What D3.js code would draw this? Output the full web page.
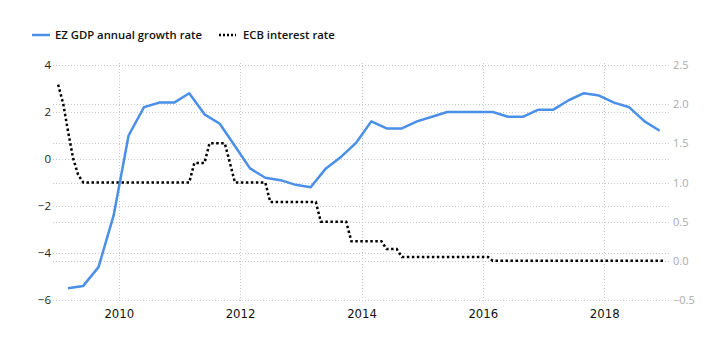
<!DOCTYPE html>
<html>
<head>
<meta charset="utf-8">
<script src="https://cdn.jsdelivr.net/npm/d3@7"></script>
<style>
  html, body { margin: 0; padding: 0; background: #fff; }
  svg { display: block; }
</style>
</head>
<body>
<svg id="chart" width="720" height="362"></svg>
<script>
// ---- Data ----
const gdpQuarters = [
  "2009Q1","2009Q2","2009Q3","2009Q4",
  "2010Q1","2010Q2","2010Q3","2010Q4",
  "2011Q1","2011Q2","2011Q3","2011Q4",
  "2012Q1","2012Q2","2012Q3","2012Q4",
  "2013Q1","2013Q2","2013Q3","2013Q4",
  "2014Q1","2014Q2","2014Q3","2014Q4",
  "2015Q1","2015Q2","2015Q3","2015Q4",
  "2016Q1","2016Q2","2016Q3","2016Q4",
  "2017Q1","2017Q2","2017Q3","2017Q4",
  "2018Q1","2018Q2","2018Q3","2018Q4"
];
const gdpGrowth = [
  -5.5, -5.4, -4.6, -2.4,
   1.0,  2.2,  2.4,  2.4,
   2.8,  1.9,  1.5,  0.55,
  -0.4, -0.8, -0.9, -1.1,
  -1.2, -0.4,  0.1,  0.7,
   1.6,  1.3,  1.3,  1.6,
   1.8,  2.0,  2.0,  2.0,
   2.0,  1.8,  1.8,  2.1,
   2.1,  2.5,  2.8,  2.7,
   2.4,  2.2,  1.6,  1.2
];
const ecbMonths = d3.timeMonths(new Date(2009, 0, 1), new Date(2019, 1, 1)); // Jan 2009 .. Jan 2019
const ecbRate = [
  // 2009
  2.25, 2.0, 1.66, 1.31, 1.1, 1.0, 1.0, 1.0, 1.0, 1.0, 1.0, 1.0,
  // 2010
  1.0, 1.0, 1.0, 1.0, 1.0, 1.0, 1.0, 1.0, 1.0, 1.0, 1.0, 1.0,
  // 2011
  1.0, 1.0, 1.0, 1.25, 1.25, 1.25, 1.5, 1.5, 1.5, 1.5, 1.25, 1.0,
  // 2012
  1.0, 1.0, 1.0, 1.0, 1.0, 1.0, 0.75, 0.75, 0.75, 0.75, 0.75, 0.75,
  // 2013
  0.75, 0.75, 0.75, 0.75, 0.5, 0.5, 0.5, 0.5, 0.5, 0.5, 0.25, 0.25,
  // 2014
  0.25, 0.25, 0.25, 0.25, 0.25, 0.15, 0.15, 0.15, 0.05, 0.05, 0.05, 0.05,
  // 2015
  0.05, 0.05, 0.05, 0.05, 0.05, 0.05, 0.05, 0.05, 0.05, 0.05, 0.05, 0.05,
  // 2016
  0.05, 0.05, 0, 0, 0, 0, 0, 0, 0, 0, 0, 0,
  // 2017
  0, 0, 0, 0, 0, 0, 0, 0, 0, 0, 0, 0,
  // 2018
  0, 0, 0, 0, 0, 0, 0, 0, 0, 0, 0, 0,
  // 2019
  0
];
const leftTicks = [-6, -4, -2, 0, 2, 4];
const rightTicks = [-0.5, 0, 0.5, 1, 1.5, 2, 2.5];
const xTickYears = [2010, 2012, 2014, 2016, 2018];
const seriesNames = ["EZ GDP annual growth rate", "ECB interest rate"];

// ---- Helpers ----
function quarterDate(q) {
  const y = +q.slice(0, 4), n = +q.slice(5);
  return new Date(y, n * 3 - 1, 1);
}

// ---- Layout ----
const svg = d3.select("#chart");
const X0 = 53, X1 = 670, Y0 = 65, Y1 = 300;

const x = d3.scaleTime()
  .domain([new Date(2008, 11, 1), new Date(2019, 1, 1)])
  .range([X0, X1]);
const yL = d3.scaleLinear().domain([-6, 4]).range([Y1, Y0]);
const yR = d3.scaleLinear().domain([-0.5, 2.5]).range([Y1, Y0]);

const gridColor = "#c9c9c9";

// Horizontal grid lines (both axes)
const grid = svg.append("g");
grid.selectAll("line.gl").data(leftTicks).join("line")
  .attr("x1", X0).attr("x2", X1)
  .attr("y1", d => Math.round(yL(d)) + 0.5).attr("y2", d => Math.round(yL(d)) + 0.5)
  .attr("stroke", gridColor).attr("stroke-dasharray", "1,2");
grid.selectAll("line.gr").data(rightTicks).join("line")
  .attr("x1", X0).attr("x2", X1)
  .attr("y1", d => Math.round(yR(d)) + 0.5).attr("y2", d => Math.round(yR(d)) + 0.5)
  .attr("stroke", gridColor).attr("stroke-dasharray", "1,2");
// Vertical grid lines
grid.selectAll("line.gv").data(xTickYears).join("line")
  .attr("x1", d => Math.round(x(new Date(d, 0, 1))) + 0.5)
  .attr("x2", d => Math.round(x(new Date(d, 0, 1))) + 0.5)
  .attr("y1", Y0 - 2).attr("y2", Y1 + 3)
  .attr("stroke", gridColor).attr("stroke-dasharray", "1,2");

// Left axis labels
const axL = d3.axisLeft(yL).tickValues(leftTicks).tickSize(0).tickPadding(2);
const gL = svg.append("g").attr("transform", `translate(${X0},0)`).call(axL);
gL.select(".domain").remove();
gL.selectAll("text").attr("font-family", "'Open Sans', sans-serif")
  .attr("font-size", 11.5).attr("fill", "#222");

// Right axis labels
const axR = d3.axisRight(yR).tickValues(rightTicks).tickSize(0).tickPadding(3);
const gR = svg.append("g").attr("transform", `translate(${X1},0)`).call(axR);
gR.select(".domain").remove();
gR.selectAll("text").attr("font-family", "'Open Sans', sans-serif")
  .attr("font-size", 11).attr("fill", "#aaaaaa");

// X axis labels
const axX = d3.axisBottom(x).tickValues(xTickYears.map(y => new Date(y, 0, 1)))
  .tickFormat(d3.timeFormat("%Y")).tickSize(0).tickPadding(9);
const gX = svg.append("g").attr("transform", `translate(0,${Y1})`).call(axX);
gX.select(".domain").remove();
gX.selectAll("text").attr("font-family", "'Liberation Sans Narrow', 'DejaVu Sans Condensed', sans-serif")
  .attr("font-size", 13).attr("fill", "#111");

// ECB line (dotted)
const ecbData = ecbMonths.map((d, i) => ({ date: d, v: ecbRate[i] }));
svg.append("path")
  .datum(ecbData)
  .attr("fill", "none")
  .attr("stroke", "#000")
  .attr("stroke-width", 2.5)
  .attr("stroke-dasharray", "2.5,2.5")
  .attr("d", d3.line().x(d => x(d.date)).y(d => yR(d.v)));

// GDP line
const gdpData = gdpQuarters.map((q, i) => ({ date: quarterDate(q), v: gdpGrowth[i] }));
svg.append("path")
  .datum(gdpData)
  .attr("fill", "none")
  .attr("stroke", "#4a8fe8")
  .attr("stroke-width", 2.5)
  .attr("stroke-linejoin", "round")
  .attr("d", d3.line().x(d => x(d.date)).y(d => yL(d.v)));

// Legend
const lg = svg.append("g");
lg.append("line").attr("x1", 32).attr("x2", 50).attr("y1", 35).attr("y2", 35)
  .attr("stroke", "#4a8fe8").attr("stroke-width", 2.5);
lg.append("text").attr("x", 55).attr("y", 39.3).text(seriesNames[0])
  .attr("font-family", "'Open Sans', sans-serif").attr("font-size", 11.3)
  .attr("font-weight", 600).attr("fill", "#111");
lg.append("line").attr("x1", 219).attr("x2", 236).attr("y1", 35).attr("y2", 35)
  .attr("stroke", "#000").attr("stroke-width", 2.5).attr("stroke-dasharray", "2,2");
lg.append("text").attr("x", 243).attr("y", 39.3).text(seriesNames[1])
  .attr("font-family", "'Open Sans', sans-serif").attr("font-size", 11.3)
  .attr("font-weight", 600).attr("fill", "#111");
</script>
</body>
</html>
